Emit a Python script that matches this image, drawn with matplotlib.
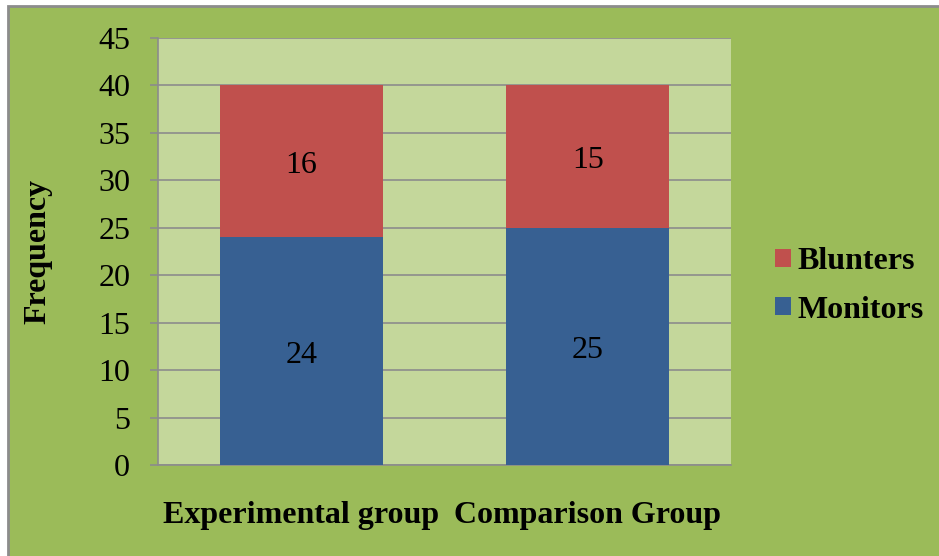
import numpy as np
import matplotlib.pyplot as plt
from matplotlib.patches import Rectangle

# data
groups = ["Experimental group", "Comparison Group"]
monitors = [24, 25]
blunters = [16, 15]
series_names = ["Monitors", "Blunters"]
y_ticks = list(range(0, 50, 5))

outer_green = "#9BBB59"
plot_green = "#C4D79B"
blue = "#376092"
red = "#C0504D"
grid_grey = "#8C8C8C"
fs = 23

plt.rcParams["font.family"] = ["Liberation Serif", "DejaVu Serif"]

fig = plt.figure(figsize=(9.39, 5.56), dpi=100)
fig.patch.set_facecolor("white")
# green chart area with grey border
fig.patches.append(Rectangle((7.5 / 939, -0.01), 1, 1.01 - 5.5 / 556, transform=fig.transFigure,
                             facecolor=outer_green, edgecolor="#8C8C8C", linewidth=2, zorder=-5))

ax = fig.add_axes([158 / 939, 1 - 465 / 556, (731 - 158) / 939, (465 - 38) / 556])
ax.set_facecolor(plot_green)

x = np.arange(len(groups))
b1 = ax.bar(x, monitors, width=0.57, color=blue, label=series_names[0], zorder=3)
b2 = ax.bar(x, blunters, width=0.57, bottom=monitors, color=red, label=series_names[1], zorder=3)

# value labels, centred in each segment (sit a touch low like the original)
for xi, m, b in zip(x, monitors, blunters):
    ax.annotate(str(m), (xi, m / 2), xytext=(0, -3), textcoords="offset points",
                ha="center", va="center", fontsize=fs, zorder=4)
    ax.annotate(str(b), (xi, m + b / 2), xytext=(0, -3), textcoords="offset points",
                ha="center", va="center", fontsize=fs, zorder=4)

ax.set_xlim(-0.5, 1.5)
ax.set_ylim(0, 45)
ax.set_yticks(y_ticks)
ax.set_xticks(x)
ax.set_xticklabels(groups, fontsize=fs, fontweight="bold")
ax.tick_params(axis="x", length=0, pad=26)
ax.tick_params(axis="y", length=6, width=1.2, color=grid_grey, pad=14, labelsize=fs)
ax.yaxis.grid(True, color=grid_grey, linewidth=1.2, zorder=1)
ax.set_axisbelow(True)

for s in ["top", "right"]:
    ax.spines[s].set_visible(False)
for s in ["left", "bottom"]:
    ax.spines[s].set_color(grid_grey)
    ax.spines[s].set_linewidth(1.2)

ax.set_ylabel("Frequency", fontsize=fs, fontweight="bold")
ax.yaxis.set_label_coords(-0.185, 0.5)

handles, labels = ax.get_legend_handles_labels()
leg = fig.legend(handles[::-1], labels[::-1], loc="center left",
                 bbox_to_anchor=(775 / 939, 1 - 286 / 556), frameon=False,
                 prop={"size": fs, "weight": "bold"}, handlelength=0.5, handleheight=0.5,
                 handletextpad=0.2, labelspacing=0.6, borderaxespad=0, borderpad=0)

fig.savefig("out.png", dpi=100)
